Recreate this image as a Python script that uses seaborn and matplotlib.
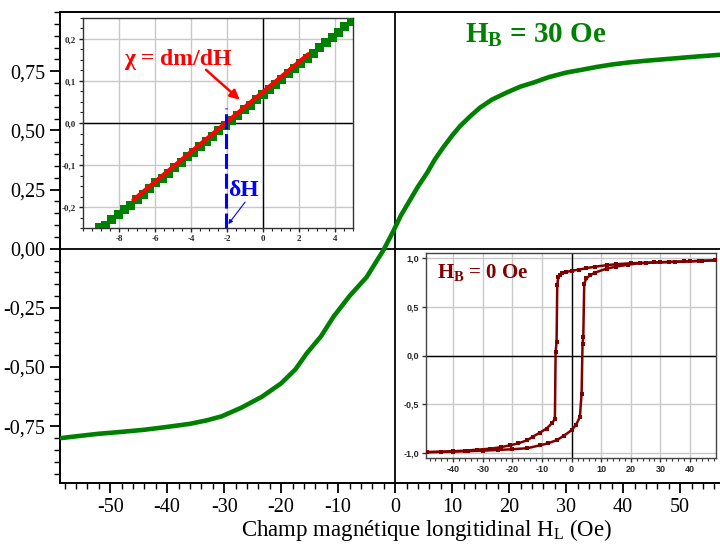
import matplotlib
matplotlib.use("Agg")
import matplotlib.pyplot as plt
from matplotlib.ticker import FixedLocator, MultipleLocator, FuncFormatter
import seaborn as sns

# courbe principale, H_B = 30 Oe
champ = [-58.5, -55, -52, -48, -44, -40, -36, -33, -30.4, -27, -23.4, -20, -17.5,
         -15.5, -13, -10.8, -8, -5, -3.5, -2, -0.3, 1, 2.6, 4, 5.6, 7, 8.5, 10,
         11.4, 13.2, 14.9, 17, 19.6, 22, 24.3, 27, 30, 33, 35.4, 38, 41, 44, 47,
         50, 53, 56.4, 57.5]
aimant = [-0.80, -0.79, -0.782, -0.774, -0.765, -0.753, -0.74, -0.725, -0.708,
          -0.672, -0.626, -0.569, -0.51, -0.442, -0.37, -0.287, -0.2, -0.12,
          -0.062, -0.004, 0.075, 0.14, 0.205, 0.262, 0.32, 0.378, 0.43, 0.478,
          0.518, 0.56, 0.596, 0.63, 0.66, 0.685, 0.702, 0.725, 0.744, 0.757,
          0.768, 0.778, 0.787, 0.794, 0.80, 0.806, 0.812, 0.818, 0.82]

# zoom autour de zero (carres verts)
champ_zoom = [-9.1, -8.75, -8.4, -8.05, -7.7, -7.35, -7.0, -6.65, -6.3, -5.95,
              -5.6, -5.25, -4.9, -4.55, -4.2, -3.85, -3.5, -3.15, -2.8, -2.45,
              -2.1, -1.75, -1.4, -1.05, -0.7, -0.35, 0.0, 0.35, 0.7, 1.05, 1.4,
              1.75, 2.1, 2.45, 2.8, 3.15, 3.5, 3.85, 4.2, 4.55, 4.9]
aimant_zoom = [-0.250, -0.244, -0.230, -0.219, -0.207, -0.196, -0.182, -0.171,
               -0.157, -0.142, -0.132, -0.121, -0.107, -0.094, -0.080, -0.071,
               -0.057, -0.045, -0.032, -0.019, -0.006, 0.006, 0.017, 0.031,
               0.042, 0.056, 0.067, 0.080, 0.092, 0.104, 0.118, 0.129, 0.142,
               0.153, 0.166, 0.180, 0.191, 0.204, 0.215, 0.229, 0.241]
fit_h = [-7.2, 2.52]
fit_m = [-0.183, 0.164]
dH = -2.07

# cycle d'hysteresis, H_B = 0 Oe
desc_h = [48.5, 44, 40, 35, 30, 25, 20, 15, 11.8, 8, 5, 2.5, 0, -2, -3.2, -3.95,
          -4.5, -4.85, -5.07, -5.4, -5.64, -6.5, -8.45, -10.7, -13, -15, -18,
          -20.8, -24, -27.6, -32, -36, -40, -44, -49]
desc_m = [0.975, 0.97, 0.965, 0.96, 0.955, 0.95, 0.945, 0.935, 0.925, 0.91,
          0.895, 0.88, 0.867, 0.855, 0.845, 0.823, 0.80, 0.72, 0.14, 0.037,
          -0.646, -0.69, -0.748, -0.79, -0.83, -0.868, -0.90, -0.92, -0.94,
          -0.955, -0.965, -0.975, -0.98, -0.985, -0.99]
asc_h = [-49, -44, -40, -35, -30, -25, -20, -15, -10.7, -8, -5.07, -2.5, 0, 1.5,
         2.8, 3.38, 3.7, 3.95, 4.27, 5, 6.2, 8, 11.8, 15, 19, 23, 28, 33, 38, 43,
         48.5]
asc_m = [-0.99, -0.988, -0.985, -0.98, -0.975, -0.968, -0.96, -0.95, -0.92,
         -0.90, -0.868, -0.82, -0.765, -0.71, -0.63, -0.39, 0.12, 0.19, 0.737,
         0.79, 0.82, 0.85, 0.89, 0.91, 0.93, 0.945, 0.953, 0.958, 0.963, 0.968,
         0.975]

vert = "#008000"
bordeaux = "#800000"

sns.set_theme(style="ticks")
plt.rcParams["font.family"] = ["Liberation Serif", "DejaVu Serif"]
plt.rcParams["mathtext.fontset"] = "custom"
plt.rcParams["mathtext.rm"] = "Liberation Serif"
plt.rcParams["mathtext.bf"] = "Liberation Serif:bold"


def virgule(fmt):
    return FuncFormatter(lambda v, p: format(v, fmt).replace(".", ","))


fig = plt.figure(figsize=(7.2, 5.52), dpi=100)

# graphe principal
ax = fig.add_axes([60 / 720, 1 - 483 / 552, 660 / 720, 471 / 552])
ax.axhline(0, color="black", lw=1.3, zorder=1)
ax.axvline(0, color="black", lw=1.3, zorder=1)
sns.lineplot(x=champ, y=aimant, ax=ax, color=vert, linewidth=3.3,
             estimator=None, sort=False, zorder=3)
ax.set_xlim(-58.8, 57)
ax.set_ylim(-0.99, 1.0)
ax.xaxis.set_major_locator(MultipleLocator(10))
ax.xaxis.set_minor_locator(MultipleLocator(2))
ax.yaxis.set_major_locator(FixedLocator([-0.75, -0.5, -0.25, 0, 0.25, 0.5, 0.75]))
ax.yaxis.set_minor_locator(MultipleLocator(0.05))
ax.xaxis.set_major_formatter(virgule(".0f"))
ax.yaxis.set_major_formatter(virgule(".2f"))
ax.tick_params(which="major", direction="out", length=7, width=1.3,
               labelsize=14.5, color="black", labelcolor="black")
ax.tick_params(which="minor", direction="out", length=4, width=1, color="black")
for s in ["left", "bottom", "top"]:
    ax.spines[s].set_color("black")
    ax.spines[s].set_linewidth(1.4)
ax.spines["right"].set_visible(False)
ax.set_xlabel(r"Champ magnétique longitidinal $\mathrm{H_L}$ (Oe)", fontsize=16.5,
              color="black")
ax.xaxis.set_label_coords(0.556, -0.072)
ax.text(12.3, 0.869, r"$\mathbf{H_B}$ = 30 Oe", color=vert, fontsize=21,
        fontweight="bold", va="baseline", ha="left")

# encart: zoom autour de zero
ax1 = fig.add_axes([83 / 720, 1 - 228 / 552, 270 / 720, 210 / 552])
ax1.set_facecolor("white")
ax1.grid(True, which="major", color="#c8c8c8", lw=1)
ax1.axhline(0, color="black", lw=1, zorder=2)
ax1.axvline(0, color="black", lw=1, zorder=2)
sns.scatterplot(x=champ_zoom, y=aimant_zoom, ax=ax1, marker="s", s=42,
                color=vert, edgecolor="none", zorder=3)
sns.lineplot(x=fit_h, y=fit_m, ax=ax1, color="red", linewidth=3, zorder=4)
ax1.vlines(dH, -0.25, 0.036, color="blue", lw=2.2, linestyles=(0, (4.9, 1.6)),
           zorder=5)
ax1.set_xlim(-10, 5)
ax1.set_ylim(-0.25, 0.25)
ax1.xaxis.set_major_locator(FixedLocator([-8, -6, -4, -2, 0, 2, 4]))
ax1.xaxis.set_minor_locator(MultipleLocator(0.5))
ax1.yaxis.set_major_locator(MultipleLocator(0.1))
ax1.yaxis.set_minor_locator(MultipleLocator(0.025))
ax1.xaxis.set_major_formatter(virgule(".0f"))
ax1.yaxis.set_major_formatter(virgule(".1f"))
ax1.tick_params(which="major", direction="out", length=3, width=1, pad=2,
                labelsize=6.5, color="#222222")
ax1.tick_params(which="minor", direction="out", length=2, width=0.8,
                color="#222222")
for lab in ax1.get_xticklabels() + ax1.get_yticklabels():
    lab.set_fontweight("bold")
for s in ax1.spines.values():
    s.set_color("#333333")
    s.set_linewidth(1)
ax1.text(-7.72, 0.139, "χ = dm/dH", color="red", fontsize=17,
         fontweight="bold", va="baseline", zorder=6)
ax1.annotate("", xy=(-1.18, 0.051), xytext=(-3.28, 0.131),
             arrowprops=dict(arrowstyle="-|>", color="red", lw=1.8,
                             mutation_scale=14), zorder=6)
ax1.text(-1.94, -0.173, "δH", color="blue", fontsize=17, fontweight="bold",
         va="baseline", zorder=6)
ax1.annotate("", xy=(-2.02, -0.246), xytext=(-0.9, -0.183),
             arrowprops=dict(arrowstyle="-|>", color="blue", lw=0.8,
                             mutation_scale=6), zorder=6)

# encart: cycle d'hysteresis
ax2 = fig.add_axes([426 / 720, 1 - 458 / 552, 290 / 720, 205 / 552])
ax2.set_facecolor("white")
ax2.grid(True, which="major", color="#c8c8c8", lw=1)
ax2.axhline(0, color="black", lw=1, zorder=2)
ax2.axvline(0, color="black", lw=1, zorder=2)
for hh, mm in [(desc_h, desc_m), (asc_h, asc_m)]:
    sns.lineplot(x=hh, y=mm, ax=ax2, color=bordeaux, linewidth=1.8,
                 marker="s", markersize=3, markeredgewidth=0,
                 estimator=None, sort=False, zorder=3)
ax2.set_xlim(-49.2, 48.8)
ax2.set_ylim(-1.05, 1.05)
ax2.xaxis.set_major_locator(MultipleLocator(10))
ax2.xaxis.set_minor_locator(MultipleLocator(2))
ax2.yaxis.set_major_locator(MultipleLocator(0.5))
ax2.xaxis.set_major_formatter(virgule(".0f"))
ax2.yaxis.set_major_formatter(virgule(".1f"))
ax2.tick_params(which="major", direction="out", length=3, width=1, pad=2,
                labelsize=6.5, color="#333333")
ax2.tick_params(which="minor", direction="out", length=2, width=0.8,
                color="#333333")
for lab in ax2.get_xticklabels() + ax2.get_yticklabels():
    lab.set_fontweight("bold")
    lab.set_fontfamily(["Liberation Sans", "DejaVu Sans"])
for s in ax2.spines.values():
    s.set_color("#444444")
    s.set_linewidth(1)
ax2.text(-45.6, 0.79, r"$\mathbf{H_B}$ = 0 Oe", color=bordeaux, fontsize=15,
         fontweight="bold", va="baseline", ha="left")

fig.savefig("out.png", dpi=100)
